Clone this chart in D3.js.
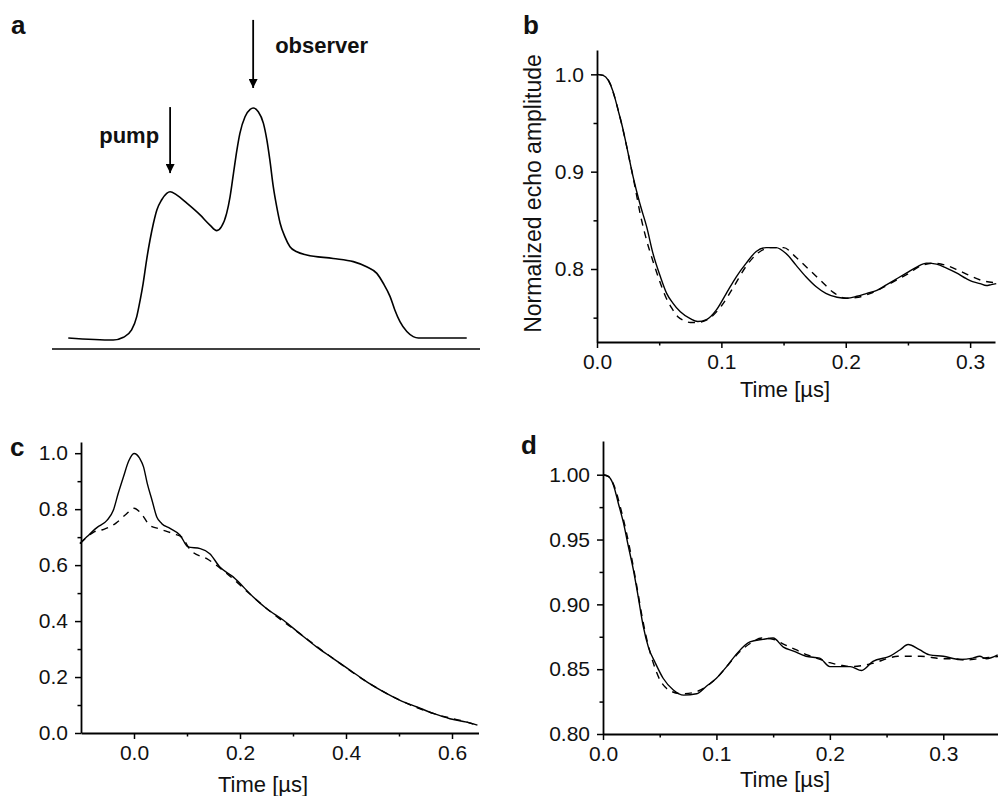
<!DOCTYPE html>
<html>
<head>
<meta charset="utf-8">
<script src="https://cdn.jsdelivr.net/npm/d3@7"></script>
<style>
  html, body { margin: 0; padding: 0; background: #fff; }
  svg { display: block; }
  text { font-family: "Liberation Sans", Arial, sans-serif; fill: #111; }
</style>
</head>
<body>
<svg id="chart" width="998" height="796"></svg>
<script>
// ---------- Panel a: spectrum (arbitrary units) ----------
const specX = [3.8, 14.3, 16.7, 18.6, 19.8, 20.6, 21.3, 22.1, 22.9, 23.7, 24.5, 25.6, 26.8, 27.6, 29.1, 31.5, 34.6, 36.9, 38.5, 39.6, 40.8, 41.6, 42.4, 43.2, 43.9, 45.1, 46.3, 47.0, 48.2, 49.4, 50.2, 50.9, 51.7, 52.5, 53.3, 54.4, 55.6, 57.2, 59.5, 65.7, 70.4, 73.5, 75.9, 77.4, 79.0, 80.1, 81.3, 82.9, 84.4, 85.6, 96.9];
const specY = [0, -0.009, 0.003, 0.035, 0.093, 0.165, 0.238, 0.339, 0.426, 0.499, 0.557, 0.600, 0.629, 0.636, 0.622, 0.586, 0.535, 0.491, 0.467, 0.484, 0.542, 0.614, 0.716, 0.817, 0.890, 0.962, 0.994, 1.0, 0.984, 0.933, 0.861, 0.774, 0.658, 0.571, 0.499, 0.441, 0.397, 0.375, 0.361, 0.346, 0.332, 0.310, 0.281, 0.238, 0.180, 0.122, 0.071, 0.028, 0.006, 0, 0];
const arrowLabels = ["pump", "observer"];
const arrowX = [27.6, 47.0];
const arrowTop = [1.004, 1.383];
const arrowTip = [0.717, 1.087];

// ---------- Panel b ----------
const bSolidT = [0, 0.005, 0.009, 0.013, 0.017, 0.021, 0.025, 0.029, 0.0345, 0.040, 0.045, 0.051, 0.056, 0.061, 0.067, 0.075, 0.081, 0.088, 0.096, 0.104, 0.112, 0.120, 0.128, 0.136, 0.144, 0.152, 0.160, 0.168, 0.176, 0.184, 0.193, 0.201, 0.209, 0.217, 0.225, 0.233, 0.241, 0.249, 0.257, 0.265, 0.273, 0.281, 0.289, 0.297, 0.302, 0.308, 0.313, 0.317, 0.321];
const bSolidV = [1.0, 0.999, 0.994, 0.982, 0.963, 0.943, 0.919, 0.895, 0.867, 0.843, 0.816, 0.792, 0.775, 0.765, 0.756, 0.749, 0.746, 0.748, 0.758, 0.775, 0.792, 0.806, 0.818, 0.822, 0.822, 0.816, 0.804, 0.792, 0.782, 0.775, 0.771, 0.770, 0.772, 0.775, 0.778, 0.784, 0.790, 0.796, 0.802, 0.806, 0.805, 0.801, 0.796, 0.790, 0.787, 0.785, 0.783, 0.784, 0.785];
const bDashT = [0, 0.005, 0.01, 0.015, 0.02, 0.025, 0.03, 0.035, 0.04, 0.045, 0.05, 0.055, 0.06, 0.065, 0.07, 0.075, 0.08, 0.09, 0.10, 0.11, 0.12, 0.13, 0.14, 0.15, 0.16, 0.17, 0.18, 0.19, 0.20, 0.21, 0.22, 0.23, 0.24, 0.25, 0.26, 0.27, 0.28, 0.29, 0.30, 0.31, 0.32];
const bDashV = [1.0, 0.999, 0.992, 0.973, 0.948, 0.919, 0.888, 0.855, 0.829, 0.808, 0.789, 0.772, 0.760, 0.751, 0.747, 0.745, 0.745, 0.749, 0.762, 0.782, 0.803, 0.817, 0.822, 0.822, 0.812, 0.800, 0.788, 0.776, 0.770, 0.771, 0.775, 0.781, 0.788, 0.795, 0.803, 0.806, 0.804, 0.799, 0.793, 0.788, 0.786];
const bXTicks = [0.0, 0.1, 0.2, 0.3];
const bXMinor = [0.05, 0.15, 0.25];
const bYTicks = [0.8, 0.9, 1.0];
const bYMinor = [0.75, 0.85, 0.95];

// ---------- Panel c ----------
const cSolidT = [-0.102, -0.089, -0.070, -0.051, -0.039, -0.030, -0.020, -0.010, 0.0, 0.011, 0.018, 0.025, 0.034, 0.043, 0.052, 0.068, 0.087, 0.102, 0.125, 0.143, 0.162, 0.187, 0.225, 0.250, 0.282, 0.313, 0.345, 0.376, 0.408, 0.440, 0.471, 0.502, 0.534, 0.566, 0.596, 0.628, 0.648];
const cSolidV = [0.677, 0.701, 0.734, 0.760, 0.796, 0.855, 0.915, 0.972, 0.999, 0.981, 0.951, 0.892, 0.832, 0.772, 0.749, 0.731, 0.707, 0.665, 0.659, 0.641, 0.593, 0.558, 0.486, 0.445, 0.403, 0.355, 0.307, 0.266, 0.224, 0.182, 0.147, 0.117, 0.093, 0.069, 0.051, 0.039, 0.028];
const cDashT = [-0.102, -0.089, -0.076, -0.057, -0.034, -0.016, 0.0, 0.011, 0.030, 0.047, 0.075, 0.090, 0.107, 0.140, 0.175, 0.225, 0.250, 0.313, 0.376, 0.440, 0.502, 0.566, 0.628, 0.648];
const cDashV = [0.677, 0.700, 0.718, 0.728, 0.750, 0.780, 0.803, 0.790, 0.742, 0.730, 0.712, 0.700, 0.653, 0.620, 0.570, 0.486, 0.445, 0.355, 0.266, 0.182, 0.117, 0.069, 0.039, 0.028];
const cXTicks = [0.0, 0.2, 0.4, 0.6];
const cXMinor = [0.1, 0.3, 0.5];
const cYTicks = [0.0, 0.2, 0.4, 0.6, 0.8, 1.0];
const cYMinor = [0.1, 0.3, 0.5, 0.7, 0.9];

// ---------- Panel d ----------
const dSolidT = [0, 0.0047, 0.0091, 0.0135, 0.018, 0.0223, 0.0267, 0.031, 0.0355, 0.040, 0.046, 0.053, 0.062, 0.071, 0.0826, 0.0914, 0.100, 0.109, 0.118, 0.1295, 0.141, 0.150, 0.159, 0.168, 0.179, 0.191, 0.200, 0.218, 0.228, 0.238, 0.253, 0.262, 0.269, 0.279, 0.288, 0.300, 0.3145, 0.326, 0.332, 0.338, 0.348];
const dSolidV = [1.0, 0.9987, 0.9923, 0.978, 0.963, 0.945, 0.927, 0.906, 0.883, 0.867, 0.855, 0.843, 0.834, 0.830, 0.831, 0.837, 0.843, 0.852, 0.862, 0.871, 0.873, 0.874, 0.867, 0.864, 0.860, 0.8585, 0.852, 0.852, 0.849, 0.856, 0.860, 0.865, 0.869, 0.865, 0.861, 0.860, 0.8575, 0.8585, 0.860, 0.858, 0.861];
const dDashT = [0, 0.005, 0.01, 0.015, 0.02, 0.025, 0.03, 0.035, 0.04, 0.045, 0.05, 0.055, 0.06, 0.07, 0.08, 0.09, 0.10, 0.11, 0.12, 0.13, 0.14, 0.15, 0.16, 0.17, 0.18, 0.19, 0.20, 0.21, 0.22, 0.23, 0.24, 0.25, 0.26, 0.27, 0.28, 0.29, 0.30, 0.31, 0.32, 0.33, 0.34, 0.35];
const dDashV = [1.0, 0.9985, 0.991, 0.976, 0.958, 0.937, 0.913, 0.888, 0.868, 0.853, 0.842, 0.836, 0.833, 0.831, 0.832, 0.836, 0.843, 0.853, 0.863, 0.870, 0.874, 0.873, 0.869, 0.865, 0.861, 0.858, 0.855, 0.853, 0.852, 0.853, 0.855, 0.858, 0.860, 0.860, 0.860, 0.859, 0.858, 0.858, 0.857, 0.858, 0.859, 0.860];
const dXTicks = [0.0, 0.1, 0.2, 0.3];
const dXMinor = [0.05, 0.15, 0.25];
const dYTicks = [0.80, 0.85, 0.90, 0.95, 1.00];
const dYMinor = [0.825, 0.875, 0.925, 0.975];

const panelLetters = ["a", "b", "c", "d"];
const xTitle = "Time [µs]";
const bYTitle = "Normalized echo amplitude";

// ================= drawing =================
const svg = d3.select("#chart");
const TICKFONT = 21, TITLEFONT = 22;

function zip(a, b) { return a.map((v, i) => [v, b[i]]); }

function drawLine(g, x, y, ts, vs, dashed) {
  const line = d3.line().x(d => x(d[0])).y(d => y(d[1])).curve(d3.curveMonotoneX);
  return g.append("path")
    .datum(zip(ts, vs))
    .attr("d", line)
    .attr("fill", "none")
    .attr("stroke", "#000")
    .attr("stroke-width", 1.4)
    .attr("stroke-dasharray", dashed ? "7,6" : null);
}

function drawAxes(cfg) {
  const { x, y, xTicks, xMinor, yTicks, yMinor, xFmt, yFmt } = cfg;
  const y0 = y.range()[0], x0 = x.range()[0];
  svg.append("g").attr("transform", `translate(0,${y0})`)
    .call(d3.axisBottom(x).tickValues(xMinor).tickSize(3.5).tickSizeOuter(0).tickFormat(""))
    .call(g => g.select(".domain").remove())
    .call(g => g.selectAll("line").attr("stroke", "#000").attr("stroke-width", 1.5));
  svg.append("g").attr("transform", `translate(${x0},0)`)
    .call(d3.axisLeft(y).tickValues(yMinor).tickSize(3.5).tickSizeOuter(0).tickFormat(""))
    .call(g => g.select(".domain").remove())
    .call(g => g.selectAll("line").attr("stroke", "#000").attr("stroke-width", 1.5));
  const gx = svg.append("g").attr("transform", `translate(0,${y0})`)
    .call(d3.axisBottom(x).tickValues(xTicks).tickSize(6).tickSizeOuter(0).tickPadding(5).tickFormat(d3.format(xFmt)));
  gx.select(".domain").attr("stroke", "#000").attr("stroke-width", 1.8);
  gx.selectAll("line").attr("stroke", "#000").attr("stroke-width", 1.5);
  gx.selectAll("text").attr("font-size", TICKFONT).attr("font-family", "Liberation Sans, Arial, sans-serif").attr("fill", "#111").attr("dy", "0.75em");
  const gy = svg.append("g").attr("transform", `translate(${x0},0)`)
    .call(d3.axisLeft(y).tickValues(yTicks).tickSize(6).tickSizeOuter(0).tickPadding(7).tickFormat(d3.format(yFmt)));
  gy.select(".domain").attr("stroke", "#000").attr("stroke-width", 1.8);
  gy.selectAll("line").attr("stroke", "#000").attr("stroke-width", 1.5);
  gy.selectAll("text").attr("font-size", TICKFONT).attr("font-family", "Liberation Sans, Arial, sans-serif").attr("fill", "#111");
  const xr = x.range();
  svg.append("text")
    .attr("x", (cfg.titleX !== undefined) ? cfg.titleX : (xr[0] + xr[1]) / 2)
    .attr("y", y0 + cfg.titleDy)
    .attr("text-anchor", "middle")
    .attr("font-size", TITLEFONT)
    .text(xTitle);
}

function panelLetter(txt, px, py) {
  svg.append("text").attr("x", px).attr("y", py)
    .attr("font-size", 26).attr("font-weight", "bold")
    .attr("font-family", "Liberation Sans, Arial, sans-serif")
    .text(txt);
}

// ---------- Panel a ----------
{
  const x = d3.scaleLinear().domain([0, 100]).range([52, 480]);
  const y = d3.scaleLinear().domain([0, 1]).range([338, 108]);
  const g = svg.append("g");
  g.append("line").attr("x1", x(0)).attr("x2", x(100)).attr("y1", y(-0.048)).attr("y2", y(-0.048))
    .attr("stroke", "#000").attr("stroke-width", 1.6);
  drawLine(g, x, y, specX, specY, false).attr("stroke-width", 1.6);
  const defs = svg.append("defs");
  defs.append("marker").attr("id", "ah").attr("viewBox", "0 0 10 10")
    .attr("refX", 10).attr("refY", 5).attr("markerWidth", 9).attr("markerHeight", 9)
    .attr("markerUnits", "userSpaceOnUse").attr("orient", "auto")
    .append("path").attr("d", "M0,0 L10,5 L0,10 Z").attr("fill", "#000");
  arrowLabels.forEach((lab, i) => {
    g.append("line")
      .attr("x1", x(arrowX[i])).attr("x2", x(arrowX[i]))
      .attr("y1", y(arrowTop[i])).attr("y2", y(arrowTip[i]))
      .attr("stroke", "#000").attr("stroke-width", 1.8)
      .attr("marker-end", "url(#ah)");
  });
  g.append("text").attr("x", x(arrowX[0]) - 11).attr("y", y(0.848))
    .attr("text-anchor", "end").attr("font-size", 22).attr("font-weight", "bold")
    .text(arrowLabels[0]);
  g.append("text").attr("x", x(arrowX[1]) + 22).attr("y", y(1.239))
    .attr("text-anchor", "start").attr("font-size", 22).attr("font-weight", "bold")
    .text(arrowLabels[1]);
  panelLetter(panelLetters[0], 11, 34);
}

// ---------- Panel b ----------
{
  const x = d3.scaleLinear().domain([0, 0.32]).range([597, 995]);
  const y = d3.scaleLinear().domain([0.725, 1.025]).range([342, 50]);
  drawAxes({ x, y, xTicks: bXTicks, xMinor: bXMinor, yTicks: bYTicks, yMinor: bYMinor, xFmt: ".1f", yFmt: ".1f", titleDy: 55, titleX: 785 });
  const g = svg.append("g");
  drawLine(g, x, y, bDashT, bDashV, true);
  drawLine(g, x, y, bSolidT, bSolidV, false);
  svg.append("text")
    .attr("transform", `translate(541,${(50 + 337) / 2}) rotate(-90)`)
    .attr("text-anchor", "middle").attr("font-size", 23)
    .text(bYTitle);
  panelLetter(panelLetters[1], 523, 34);
}

// ---------- Panel c ----------
{
  const x = d3.scaleLinear().domain([-0.1, 0.65]).range([81, 478.5]);
  const y = d3.scaleLinear().domain([0, 1.04]).range([733, 442]);
  drawAxes({ x, y, xTicks: cXTicks, xMinor: cXMinor, yTicks: cYTicks, yMinor: cYMinor, xFmt: ".1f", yFmt: ".1f", titleDy: 59, titleX: 263 });
  const g = svg.append("g");
  drawLine(g, x, y, cDashT, cDashV, true);
  drawLine(g, x, y, cSolidT, cSolidV, false);
  panelLetter(panelLetters[2], 10, 456);
}

// ---------- Panel d ----------
{
  const x = d3.scaleLinear().domain([0, 0.35]).range([603, 1000]);
  const y = d3.scaleLinear().domain([0.8, 1.026]).range([734, 441]);
  drawAxes({ x, y, xTicks: dXTicks, xMinor: dXMinor, yTicks: dYTicks, yMinor: dYMinor, xFmt: ".1f", yFmt: ".2f", titleDy: 53, titleX: 785 });
  const g = svg.append("g");
  drawLine(g, x, y, dDashT, dDashV, true);
  drawLine(g, x, y, dSolidT, dSolidV, false);
  panelLetter(panelLetters[3], 521, 454);
}
</script>
</body>
</html>
